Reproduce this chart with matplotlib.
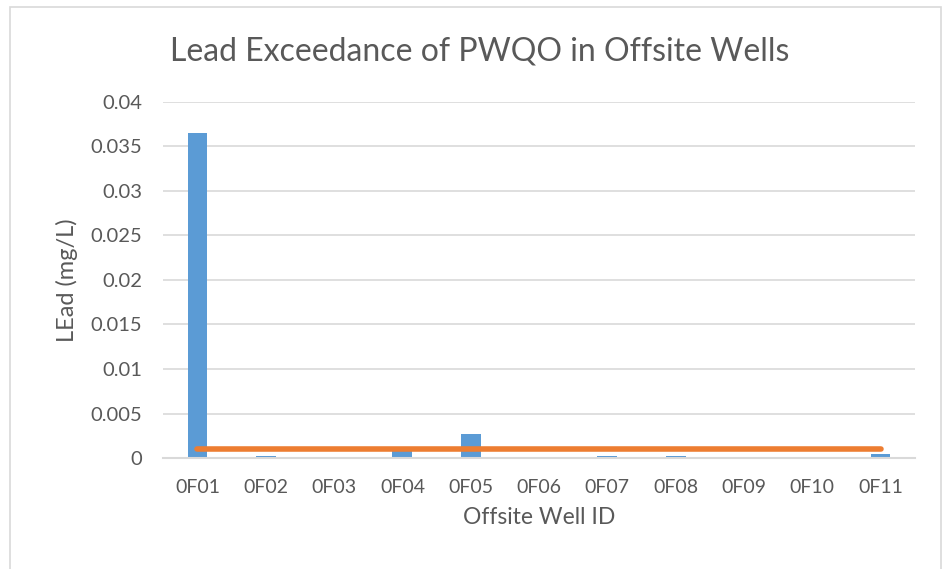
import matplotlib.pyplot as plt
from matplotlib.patches import Rectangle

# well ids and measured lead (mg/L)
wells = ['0F01', '0F02', '0F03', '0F04', '0F05', '0F06',
         '0F07', '0F08', '0F09', '0F10', '0F11']
lead = [0.0365, 0.0002, 0.0, 0.0008, 0.0027, 0.0,
        0.0002, 0.0002, 0.0, 0.0, 0.0005]
# PWQO guideline
pwqo = [0.001] * len(wells)

yticks = [0, 0.005, 0.01, 0.015, 0.02, 0.025, 0.03, 0.035, 0.04]
ytick_labels = ['0', '0.005', '0.01', '0.015', '0.02', '0.025', '0.03', '0.035', '0.04']

plt.rcParams['font.family'] = ['Lato', 'DejaVu Sans']
txt = '#595959'
grid = '#d9d9d9'

fig = plt.figure(figsize=(9.44, 5.69), dpi=100)
ax = fig.add_axes([0.173, 0.195, 0.796, 0.626])

x = range(len(wells))
ax.bar(x, lead, width=0.29, color='#5b9bd5', zorder=2)
ax.plot(x, pwqo, color='#ed7d31', linewidth=4, solid_capstyle='round', zorder=3)

ax.set_xlim(-0.5, len(wells) - 0.5)
ax.set_ylim(0, 0.04)
ax.set_yticks(yticks)
ax.set_yticklabels(ytick_labels)
ax.set_xticks(list(x))
ax.set_xticklabels(wells)
ax.tick_params(axis='y', length=0, colors=txt, labelsize=14.5, pad=15)
ax.tick_params(axis='x', length=0, colors=txt, labelsize=14, pad=15)
ax.grid(axis='y', color=grid, linewidth=1.2, zorder=0)
for s in ['top', 'right', 'left']:
    ax.spines[s].set_visible(False)
ax.spines['bottom'].set_color(grid)
ax.spines['bottom'].set_linewidth(1.5)

ax.set_xlabel('Offsite Well ID', fontsize=16.5, color=txt, labelpad=8)
ax.set_ylabel('LEad (mg/L)', fontsize=17, color=txt, labelpad=9)
fig.text(0.508, 0.91, 'Lead Exceedance of PWQO in Offsite Wells',
         ha='center', va='center', fontsize=23, color=txt)

# chart frame
fig.patches.append(Rectangle((10 / 944, -0.05), 931 / 944, 1.05 - 7 / 569,
                             transform=fig.transFigure, fill=False,
                             edgecolor='#d9d9d9', linewidth=1.2))

fig.savefig('out.png', dpi=100)
